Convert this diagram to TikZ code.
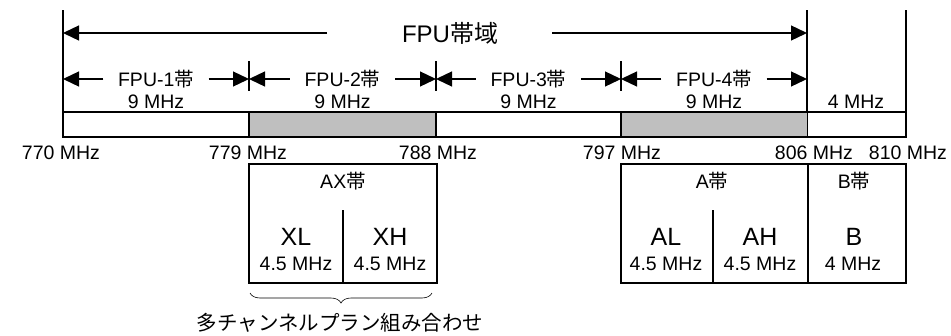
\documentclass[tikz,border=0pt]{standalone}
\usepackage{fontspec}
\setmainfont{Liberation Sans}
\newfontfamily\jp{Noto Sans CJK JP}
\usetikzlibrary{arrows.meta,decorations.pathreplacing}
\newcommand\obi{{\jp 帯}}

\begin{document}
\begin{tikzpicture}[x=1pt,y=-1pt,line width=1.3pt,
  >={Triangle[length=16pt,width=15pt]},
  lbl/.style={font=\fontsize{19.5}{22}\selectfont,inner sep=0pt},
  big/.style={font=\fontsize{25}{28}\selectfont,inner sep=0pt},
  title/.style={font=\fontsize{24}{27}\selectfont,inner sep=0pt}]
\useasboundingbox (0,0) rectangle (951,335);

% band limits
\draw (63,10) -- (63,137);
\draw (807,10) -- (807,137);
\draw (906,10) -- (906,137);
\foreach \x in {249,436,621} \draw (\x,61) -- (\x,91);

% frequency bar
\fill[gray!50] (249,112) rectangle (436,137);
\fill[gray!50] (621,112) rectangle (807,137);
\draw (63,112) rectangle (906,137);
\foreach \x in {249,436,621} \draw (\x,112) -- (\x,137);

% FPU band
\node[title] (band) at (450,33) {FPU\obi{\jp 域}};
\coordinate (bandL) at (327,33);
\coordinate (bandR) at (552,33);
\coordinate (b770) at (63,33);
\coordinate (b806) at (807,33);
\begin{scope}[->]
\draw (bandL) -- (b770);
\draw (bandR) -- (b806);
\end{scope}

% FPU-1 .. FPU-4
\foreach \a/\b/\n in {63/249/1,249/436/2,436/621/3,621/807/4}
{
  \node[lbl] (fpu\n) at ({(\a+\b)/2},79) {FPU-\n\obi};
  \node[lbl] (w\n) at ({(\a+\b)/2},102) {9 MHz};
  \coordinate (sl\n) at (\a,79);
  \coordinate (sr\n) at (\b,79);
  \draw[->] ([xshift=-14pt]fpu\n.west) -- (sl\n);
  \draw[->] ([xshift=14pt]fpu\n.east) -- (sr\n);
}
\node[lbl] (w5) at (856,102) {4 MHz};

% frequencies
\node[lbl] (m770) at (61,153) {770 MHz};
\node[lbl] (m779) at (248,153) {779 MHz};
\node[lbl] (m788) at (438,153) {788 MHz};
\node[lbl] (m797) at (622,153) {797 MHz};
\node[lbl] (m806) at (814,153) {806 MHz};
\node[lbl] (m810) at (908,153) {810 MHz};

% AX band
\draw (249,164) rectangle (437,283);
\draw (343,210) -- (343,283);
\node[lbl] (ax) at (343,181) {AX\obi};
\node[big] (xl) at (296,237) {XL};
\node[big] (xh) at (390,237) {XH};
\node[lbl] (xlw) at (296,264) {4.5 MHz};
\node[lbl] (xhw) at (390,264) {4.5 MHz};

% A and B bands
\draw (621,164) rectangle (906,283);
\draw (808,164) -- (808,283);
\draw (713,210) -- (713,283);
\node[lbl] (a) at (712,181) {A\obi};
\node[lbl] (b) at (854,181) {B\obi};
\node[big] (al) at (666,237) {AL};
\node[big] (ah) at (760,237) {AH};
\node[big] (bb) at (854,237) {B};
\node[lbl] (alw) at (666,264) {4.5 MHz};
\node[lbl] (ahw) at (760,264) {4.5 MHz};
\node[lbl] (bw) at (853,264) {4 MHz};

% multi-channel
\draw[decorate,decoration={brace,mirror,amplitude=10pt},line width=0.6pt] (250,293) -- (432,293);
\node[font=\fontsize{20.5}{23}\selectfont\jp,inner sep=0pt] (multi) at (340,323) {多チャンネルプラン組み合わせ};
\end{tikzpicture}
\end{document}
